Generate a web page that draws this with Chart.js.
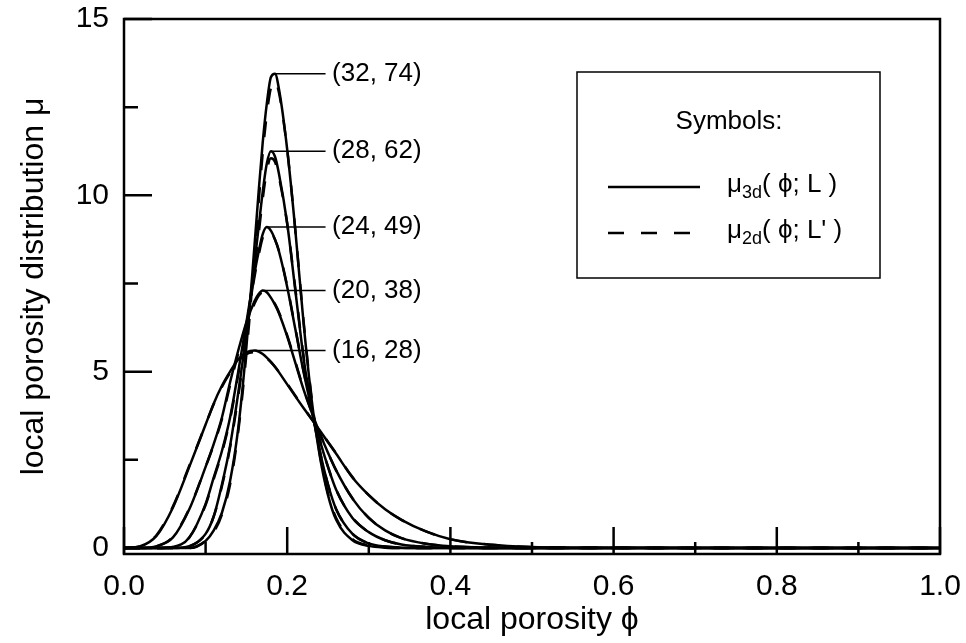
<!DOCTYPE html>
<html>
<head>
<meta charset="utf-8">
<script src="https://cdn.jsdelivr.net/npm/chart.js@4/dist/chart.umd.min.js"></script>
<style>
  html, body { margin: 0; padding: 0; background: #fff; }
</style>
</head>
<body>
<canvas id="porosity" width="966" height="643"></canvas>
<script>
// local porosity phi (shared x grid)
const phi = [0, 0.02, 0.04, 0.06, 0.08, 0.10, 0.11, 0.12, 0.13, 0.14, 0.15, 0.16, 0.165, 0.17, 0.175, 0.18,
  0.185, 0.19, 0.20, 0.21, 0.22, 0.23, 0.24, 0.25, 0.26, 0.28, 0.30, 0.32, 0.34, 0.37, 0.40, 0.45, 0.50, 0.60, 0.80, 1.00];

// mu_3d(phi; L)
const mu3d_16_28 = [0, 0.05, 0.35, 1.15, 2.3, 3.5, 4.1, 4.6, 5.0, 5.35, 5.55, 5.6, 5.57, 5.5, 5.4, 5.28,
  5.14, 4.98, 4.64, 4.3, 3.97, 3.65, 3.33, 3.0, 2.67, 2.0, 1.5, 1.1, 0.8, 0.47, 0.25, 0.09, 0.03, 0.005, 0, 0];
const mu3d_20_38 = [0, 0, 0.05, 0.3, 1.1, 2.3, 2.95, 3.7, 4.7, 5.6, 6.4, 7.0, 7.2, 7.3, 7.25, 7.1,
  6.9, 6.65, 6.0, 5.25, 4.5, 3.85, 3.25, 2.7, 2.2, 1.4, 0.85, 0.5, 0.28, 0.12, 0.05, 0.01, 0, 0, 0, 0];
const mu3d_24_49 = [0, 0, 0, 0.03, 0.3, 1.25, 2.0, 2.75, 3.7, 5.0, 6.4, 7.8, 8.4, 8.9, 9.1, 9.0,
  8.75, 8.4, 7.4, 6.2, 5.0, 3.95, 3.05, 2.3, 1.65, 0.85, 0.45, 0.22, 0.1, 0.03, 0.01, 0, 0, 0, 0, 0];
const mu3d_28_62 = [0, 0, 0, 0, 0.05, 0.4, 0.9, 1.8, 2.9, 4.4, 6.1, 8.1, 9.1, 10.1, 10.9, 11.25,
  11.1, 10.6, 9.2, 7.3, 5.4, 3.95, 2.75, 1.8, 1.1, 0.4, 0.13, 0.04, 0.01, 0, 0, 0, 0, 0, 0, 0];
const mu3d_32_74 = [0, 0, 0, 0, 0, 0.2, 0.5, 1.0, 1.9, 3.4, 5.7, 8.6, 10.1, 11.5, 12.6, 13.35,
  13.45, 13.0, 11.3, 9.0, 6.4, 4.2, 2.6, 1.5, 0.8, 0.22, 0.06, 0.01, 0, 0, 0, 0, 0, 0, 0, 0];

// mu_2d(phi; L') (dashed)
const mu2d_16_28 = [0, 0.05, 0.37, 1.18, 2.33, 3.5, 4.08, 4.57, 4.97, 5.3, 5.5, 5.55, 5.53, 5.47, 5.38, 5.27,
  5.14, 4.99, 4.66, 4.32, 3.98, 3.66, 3.34, 3.01, 2.68, 2.01, 1.5, 1.1, 0.8, 0.47, 0.25, 0.09, 0.03, 0.005, 0, 0];
const mu2d_20_38 = [0, 0, 0.05, 0.32, 1.12, 2.3, 2.93, 3.65, 4.62, 5.52, 6.33, 6.93, 7.15, 7.25, 7.22, 7.1,
  6.92, 6.68, 6.03, 5.28, 4.52, 3.86, 3.25, 2.7, 2.2, 1.41, 0.86, 0.5, 0.28, 0.12, 0.05, 0.01, 0, 0, 0, 0];
const mu2d_24_49 = [0, 0, 0, 0.03, 0.3, 1.22, 1.96, 2.7, 3.65, 4.92, 6.3, 7.7, 8.3, 8.8, 9.0, 8.95,
  8.75, 8.42, 7.43, 6.23, 5.03, 3.97, 3.06, 2.3, 1.65, 0.86, 0.45, 0.22, 0.1, 0.03, 0.01, 0, 0, 0, 0, 0];
const mu2d_28_62 = [0, 0, 0, 0, 0.05, 0.4, 0.9, 1.75, 2.85, 4.3, 6.0, 7.9, 8.9, 9.9, 10.7, 11.05,
  10.95, 10.5, 9.2, 7.35, 5.45, 3.95, 2.75, 1.8, 1.1, 0.4, 0.13, 0.04, 0.01, 0, 0, 0, 0, 0, 0, 0];
const mu2d_32_74 = [0, 0, 0, 0, 0, 0.2, 0.45, 0.95, 1.8, 3.3, 5.5, 8.3, 9.8, 11.2, 12.3, 13.05,
  13.25, 12.9, 11.3, 9.0, 6.45, 4.25, 2.65, 1.55, 0.85, 0.25, 0.07, 0.015, 0, 0, 0, 0, 0, 0, 0, 0];

const curveLabels = ['(16, 28)', '(20, 38)', '(24, 49)', '(28, 62)', '(32, 74)'];
const xTickValues = [0, 0.2, 0.4, 0.6, 0.8, 1.0];
const xMinorValues = [0.1, 0.3, 0.5, 0.7, 0.9];
const yTickValues = [0, 5, 10, 15];
const yMinorValues = [2.5, 7.5, 12.5];

const solid = [mu3d_16_28, mu3d_20_38, mu3d_24_49, mu3d_28_62, mu3d_32_74];
const dashed = [mu2d_16_28, mu2d_20_38, mu2d_24_49, mu2d_28_62, mu2d_32_74];
const DASH = [16, 17];
const PHI = '\u03D5';

const toPoints = arr => phi.map((x, i) => ({ x: x, y: arr[i] }));

const datasets = [];
dashed.forEach((arr, i) => {
  datasets.push({
    label: 'mu2d ' + curveLabels[i],
    data: toPoints(arr),
    borderColor: '#000',
    borderWidth: 2.5,
    borderDash: DASH,
    pointRadius: 0,
    cubicInterpolationMode: 'monotone',
    fill: false
  });
});
solid.forEach((arr, i) => {
  datasets.push({
    label: 'mu3d ' + curveLabels[i],
    data: toPoints(arr),
    borderColor: '#000',
    borderWidth: 2.5,
    pointRadius: 0,
    cubicInterpolationMode: 'monotone',
    fill: false
  });
});

const FONT = '"Liberation Sans", Arial, sans-serif';

// frame, inward ticks, peak labels and the "Symbols" box
const framePlugin = {
  id: 'frame',
  afterDatasetsDraw(chart) {
    const { ctx, chartArea: a, scales: { x, y } } = chart;
    ctx.save();
    ctx.strokeStyle = '#000';
    ctx.fillStyle = '#000';
    ctx.lineWidth = 2.5;
    ctx.strokeRect(a.left, a.top, a.right - a.left, a.bottom - a.top);

    ctx.beginPath();
    xTickValues.concat(xMinorValues).forEach(v => {
      const px = x.getPixelForValue(v);
      const len = xTickValues.includes(v) ? 27 : 12;
      ctx.moveTo(px, a.bottom);
      ctx.lineTo(px, a.bottom - len);
    });
    yTickValues.concat(yMinorValues).forEach(v => {
      const py = y.getPixelForValue(v);
      const len = yTickValues.includes(v) ? 28 : 14;
      ctx.moveTo(a.left, py);
      ctx.lineTo(a.left + len, py);
    });
    ctx.stroke();

    // leader lines from each peak to its (L, L') label
    ctx.lineWidth = 1.5;
    ctx.font = '26px ' + FONT;
    ctx.textBaseline = 'middle';
    ctx.textAlign = 'left';
    solid.forEach((arr, i) => {
      let k = 0;
      arr.forEach((v, j) => { if (v > arr[k]) k = j; });
      const px = x.getPixelForValue(phi[k]);
      const py = y.getPixelForValue(arr[k]);
      const ex = x.getPixelForValue(0.247);
      ctx.beginPath();
      ctx.moveTo(px, py);
      ctx.lineTo(ex, py);
      ctx.stroke();
      ctx.fillText(curveLabels[i], x.getPixelForValue(0.255), py);
    });

    // symbols box
    ctx.lineWidth = 1.5;
    ctx.strokeRect(577, 72, 303, 206);
    ctx.textAlign = 'center';
    ctx.font = '26px ' + FONT;
    ctx.fillText('Symbols:', 729, 122);

    ctx.lineWidth = 2.5;
    ctx.beginPath();
    ctx.moveTo(608, 187);
    ctx.lineTo(700, 187);
    ctx.stroke();
    ctx.setLineDash(DASH);
    ctx.beginPath();
    ctx.moveTo(608, 233);
    ctx.lineTo(700, 233);
    ctx.stroke();
    ctx.setLineDash([]);

    const entry = (sub, rest, base) => {
      ctx.textAlign = 'left';
      ctx.textBaseline = 'alphabetic';
      let cx = 727;
      ctx.font = '26px ' + FONT;
      ctx.fillText('\u03BC', cx, base);
      cx += ctx.measureText('\u03BC').width;
      ctx.font = '18px ' + FONT;
      ctx.fillText(sub, cx, base + 6);
      cx += ctx.measureText(sub).width;
      ctx.font = '26px ' + FONT;
      ctx.fillText(rest, cx, base);
    };
    entry('3d', '( ' + PHI + '; L )', 192);
    entry('2d', '( ' + PHI + '; L\' )', 238);
    ctx.restore();
  }
};

new Chart(document.getElementById('porosity'), {
  type: 'line',
  data: { datasets: datasets },
  options: {
    responsive: false,
    animation: false,
    layout: { padding: { left: 0, top: 19, right: 26, bottom: 0 } },
    plugins: { legend: { display: false }, tooltip: { enabled: false } },
    scales: {
      x: {
        type: 'linear',
        min: 0,
        max: 1,
        grid: { display: false, drawTicks: false },
        border: { display: false },
        afterBuildTicks: s => { s.ticks = xTickValues.map(v => ({ value: v })); },
        afterFit: s => { s.height = 89; s.paddingLeft = 0; s.paddingRight = 0; },
        ticks: {
          padding: 15,
          color: '#000',
          font: { size: 30, family: FONT },
          callback: v => v.toFixed(1)
        },
        title: {
          display: true,
          text: 'local porosity ' + PHI,
          color: '#000',
          font: { size: 32, family: FONT },
          padding: { top: 0, bottom: 4 }
        }
      },
      y: {
        min: -0.17,
        max: 15,
        grid: { display: false, drawTicks: false },
        border: { display: false },
        afterBuildTicks: s => { s.ticks = yTickValues.map(v => ({ value: v })); },
        afterFit: s => { s.width = 124; s.paddingTop = 0; s.paddingBottom = 0; },
        ticks: {
          padding: 15,
          color: '#000',
          font: { size: 30, family: FONT },
          callback: v => String(v)
        },
        title: {
          display: true,
          text: 'local porosity distribution \u03BC',
          color: '#000',
          font: { size: 32, family: FONT },
          padding: { top: 15, bottom: 0 }
        }
      }
    }
  },
  plugins: [framePlugin]
});
</script>
</body>
</html>
